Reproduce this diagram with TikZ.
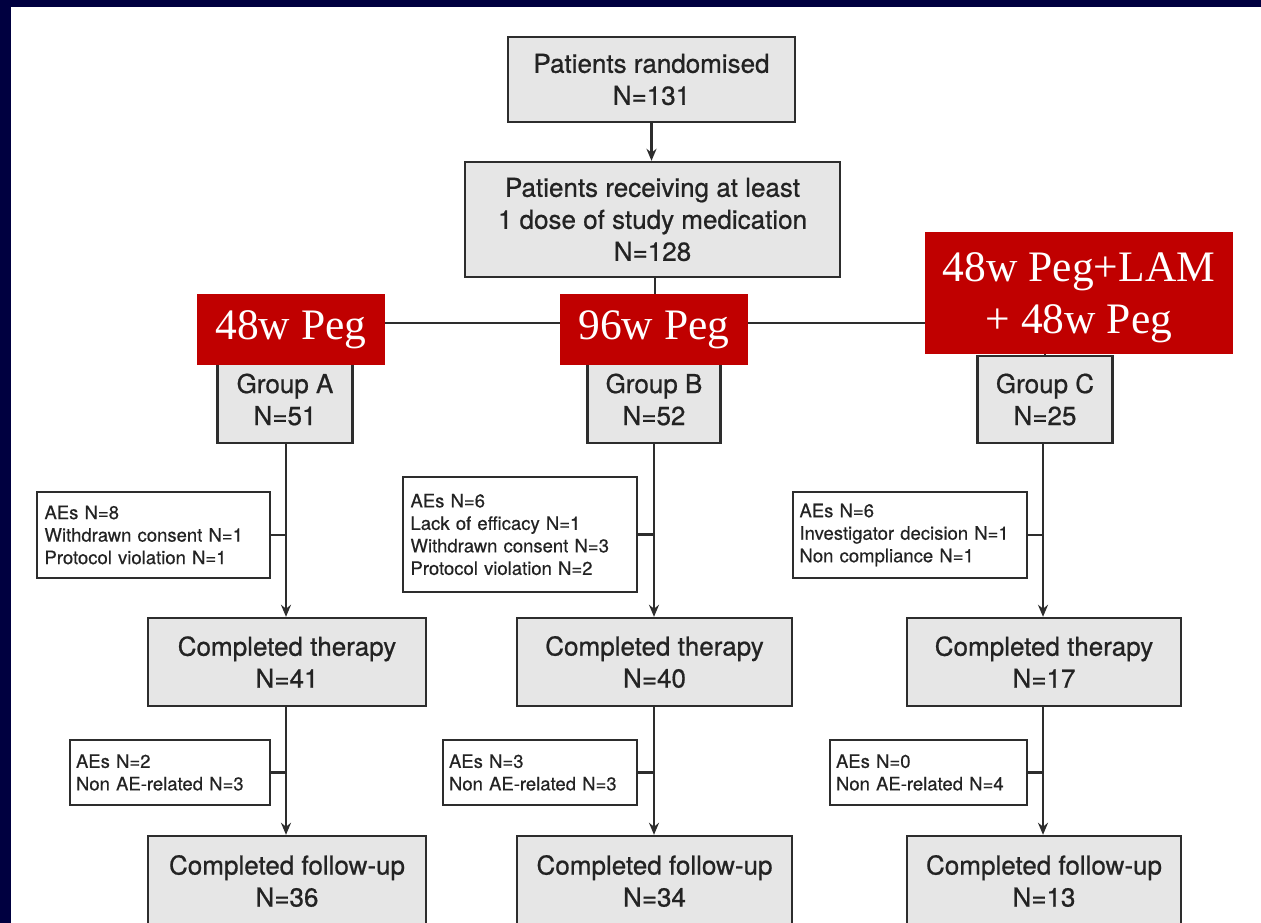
\documentclass[tikz,border=0pt]{standalone}
\usepackage{fontspec}
\setmainfont{Liberation Serif}
\newfontfamily\hv{TeX Gyre Heros}[FakeBold=0.7]
\newfontfamily\hvs{TeX Gyre Heros}[FakeBold=0.4]
\usetikzlibrary{arrows.meta,calc}
\definecolor{navyband}{RGB}{0,0,64}
\definecolor{boxgray}{RGB}{230,230,230}
\definecolor{linegray}{RGB}{45,45,45}
\definecolor{txtgray}{RGB}{35,35,35}
\definecolor{redbox}{RGB}{192,0,0}
\begin{document}
\begin{tikzpicture}[x=1pt,y=-1pt,
  mainbox/.style={draw=linegray, line width=2.4pt, fill=boxgray, inner sep=0pt, align=center, text=txtgray, font=\hv\fontsize{26}{32}\selectfont},
  sidebox/.style={draw=linegray, line width=2.2pt, fill=white, inner sep=0pt, align=left, text=txtgray, font=\hvs\fontsize{18.5}{22.5}\selectfont},
  redlabel/.style={fill=redbox, inner sep=0pt, align=center, text=white, font=\fontsize{43.5}{52}\selectfont},
  redtext/.style={inner sep=0pt, align=center, text=white, font=\fontsize{43.5}{52}\selectfont},
  conn/.style={draw=linegray, line width=2.2pt},
  arr/.style={conn, -{Stealth[length=12pt,width=10pt]}}]
\useasboundingbox (0,0) rectangle (1261,923);
\clip (0,0) rectangle (1261,923);
\fill[white] (0,0) rectangle (1261,923);

% top boxes
\node[mainbox, minimum width=287pt, minimum height=85pt] (rand) at (651.5,79.5) {Patients randomised\\N=131};
\node[mainbox, minimum width=375pt, minimum height=115pt] (recv) at (652.5,219.5) {Patients receiving at least\\1 dose of study medication\\N=128};

% groups
\node[mainbox, minimum width=135pt, minimum height=87pt] (gA) at (285,399.5) {Group A\\N=51};
\node[mainbox, minimum width=133pt, minimum height=87pt] (gB) at (654,399.5) {Group B\\N=52};
\node[mainbox, minimum width=135pt, minimum height=87pt] (gC) at (1045,399.5) {Group C\\N=25};

% completed therapy
\node[mainbox, minimum width=278pt, minimum height=88pt] (tA) at (287,662) {Completed therapy\\N=41};
\node[mainbox, minimum width=275pt, minimum height=88pt] (tB) at (654.5,662) {Completed therapy\\N=40};
\node[mainbox, minimum width=274pt, minimum height=88pt] (tC) at (1044,662) {Completed therapy\\N=17};

% completed follow-up
\node[mainbox, minimum width=278pt, minimum height=90pt] (fA) at (287,881) {Completed follow-up\\N=36};
\node[mainbox, minimum width=275pt, minimum height=90pt] (fB) at (654.5,881) {Completed follow-up\\N=34};
\node[mainbox, minimum width=274pt, minimum height=90pt] (fC) at (1044,881) {Completed follow-up\\N=13};

% side boxes (therapy phase)
\node[sidebox, minimum width=233pt, minimum height=86pt, text width=218pt] (sA) at (153.5,535) {AEs N=8\\Withdrawn consent N=1\\Protocol violation N=1};
\node[sidebox, minimum width=234pt, minimum height=115pt, text width=219pt] (sB) at (520,534.5) {AEs N=6\\Lack of efficacy N=1\\Withdrawn consent N=3\\Protocol violation N=2};
\node[sidebox, minimum width=234pt, minimum height=86pt, text width=221pt] (sC) at (910,535) {AEs N=6\\Investigator decision N=1\\Non compliance N=1};

% side boxes (follow-up phase)
\node[sidebox, minimum width=200pt, minimum height=65pt, text width=188pt] (uA) at (170,772.5) {AEs N=2\\Non AE-related N=3};
\node[sidebox, minimum width=194pt, minimum height=65pt, text width=182pt] (uB) at (540,772.5) {AEs N=3\\Non AE-related N=3};
\node[sidebox, minimum width=197pt, minimum height=65pt, text width=185pt] (uC) at (928.5,772.5) {AEs N=0\\Non AE-related N=4};

% connectors
\coordinate (split) at (655,323);
\draw[arr] (rand) -- (rand.south |- recv.north);
\draw[conn] (recv.south -| split) -- (split);
\draw[conn] (gA.north |- split) -- (gC.north |- split);
\draw[conn] (gA.north |- split) -- (gA.north);
\draw[conn] (gB.north |- split) -- (gB.north);
\draw[conn] (gC.north |- split) -- (gC.north);

\coordinate (vA) at ($(gA.south)+(1,0)$);
\coordinate (vB) at (gB.south);
\coordinate (vC) at ($(gC.south)+(-2,0)$);
\draw[arr] (vA) -- (vA |- tA.north);
\draw[arr] (vB) -- (vB |- tB.north);
\draw[arr] (vC) -- (vC |- tC.north);
\draw[conn] (sA.east) -- (sA.east -| vA);
\draw[conn] (sB.east) -- (sB.east -| vB);
\draw[conn] (sC.east) -- (sC.east -| vC);

\draw[arr] (vA |- tA.south) -- (vA |- fA.north);
\draw[arr] (vB |- tB.south) -- (vB |- fB.north);
\draw[arr] (vC |- tC.south) -- (vC |- fC.north);
\draw[conn] (uA.east) -- (uA.east -| vA);
\draw[conn] (uB.east) -- (uB.east -| vB);
\draw[conn] (uC.east) -- (uC.east -| vC);

% red labels
\node[redlabel, minimum width=188pt, minimum height=71pt] (rA) at (291,329.5) {48w Peg};
\node[redlabel, minimum width=188pt, minimum height=71pt] (rB) at (654,329.5) {96w Peg};
\node[redlabel, minimum width=308pt, minimum height=122pt] (rC) at (1079,293) {};
\node[redtext] (rCtext) at ($(rC.center)+(0,5)$) {48w Peg+LAM\\+ 48w Peg};

% frame bands
\fill[navyband] (0,0) rectangle (1261,7);
\fill[navyband] (0,0) rectangle (11,923);
\end{tikzpicture}
\end{document}
